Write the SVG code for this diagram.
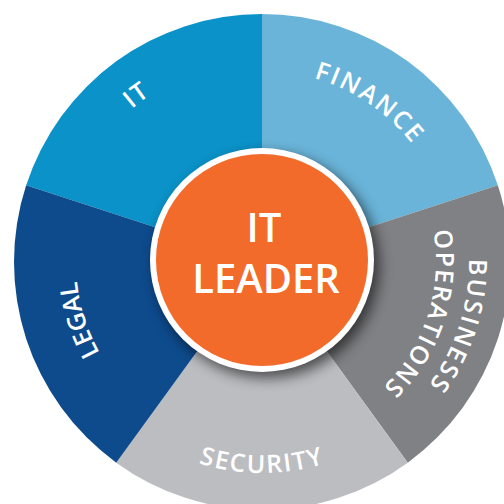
<svg xmlns="http://www.w3.org/2000/svg" width="504" height="504" viewBox="0 0 504 504">
<style>
.lbl{font-family:"Open Sans","Noto Sans","Liberation Sans",sans-serif;fill:#fff;font-size:25px;font-weight:600;letter-spacing:1px}
.ctr{font-family:"Open Sans","Noto Sans","Liberation Sans",sans-serif;fill:#fff;font-size:40px;font-weight:600;text-anchor:middle}
</style>
<defs>
<filter id="sh" x="-30%" y="-30%" width="160%" height="160%">
<feGaussianBlur stdDeviation="7"/>
</filter>
<path id="pIT" d="M66.15,216.79 A201,201 0 0 1 272.52,61.28"/>
<path id="pFIN" d="M242.03,72.05 A191,191 0 0 1 445.60,209.35"/>
<path id="pBUS" d="M453.93,184.46 A207,207 0 0 1 371.69,437.55"/>
<path id="pOPS" d="M423.33,196.82 A174,174 0 0 1 354.21,409.56"/>
<path id="pSEC" d="M126.37,423.64 A211,211 0 0 0 397.63,423.64"/>
<path id="pLEG" d="M157.99,416.20 A186,186 0 0 1 92.08,186.35"/>
</defs>
<rect width="504" height="504" fill="#fff"/>
<g id="it">
<path d="M262,262 L26.14,185.36 A248,248 0 0 1 262,14 Z" fill="#0b92c8"/>
<text class="lbl" text-anchor="middle"><textPath href="#pIT" startOffset="50%">IT</textPath></text>
</g>
<g id="finance">
<path d="M262,262 L262,14 A248,248 0 0 1 497.86,185.36 Z" fill="#6ab4d9"/>
<text class="lbl" text-anchor="middle" style="letter-spacing:2.2px"><textPath href="#pFIN" startOffset="50%">FINANCE</textPath></text>
</g>
<g id="business-operations">
<path d="M262,262 L497.86,185.36 A248,248 0 0 1 407.77,462.64 Z" fill="#808184"/>
<text class="lbl" text-anchor="middle" style="letter-spacing:2.4px"><textPath href="#pBUS" startOffset="50%">BUSINESS</textPath></text>
<text class="lbl" text-anchor="middle" style="letter-spacing:1.6px"><textPath href="#pOPS" startOffset="50%">OPERATIONS</textPath></text>
</g>
<g id="security">
<path d="M262,262 L407.77,462.64 A248,248 0 0 1 116.23,462.64 Z" fill="#bcbdc0"/>
<text class="lbl" text-anchor="middle" style="letter-spacing:1.8px"><textPath href="#pSEC" startOffset="50%">SECURITY</textPath></text>
</g>
<g id="legal">
<path d="M262,262 L116.23,462.64 A248,248 0 0 1 26.14,185.36 Z" fill="#0e4b8d"/>
<text class="lbl" text-anchor="middle" style="letter-spacing:0px"><textPath href="#pLEG" startOffset="48%">LEGAL</textPath></text>
</g>
<g id="it-leader">
<circle cx="267" cy="266" r="112" fill="#000" opacity="0.6" filter="url(#sh)"/>
<circle cx="262" cy="260" r="112" fill="#fff"/>
<circle cx="262" cy="260" r="106" fill="#f26b2a"/>
<text class="ctr" x="264" y="242">IT</text>
<text class="ctr" x="266" y="293">LEADER</text>
</g>
</svg>
